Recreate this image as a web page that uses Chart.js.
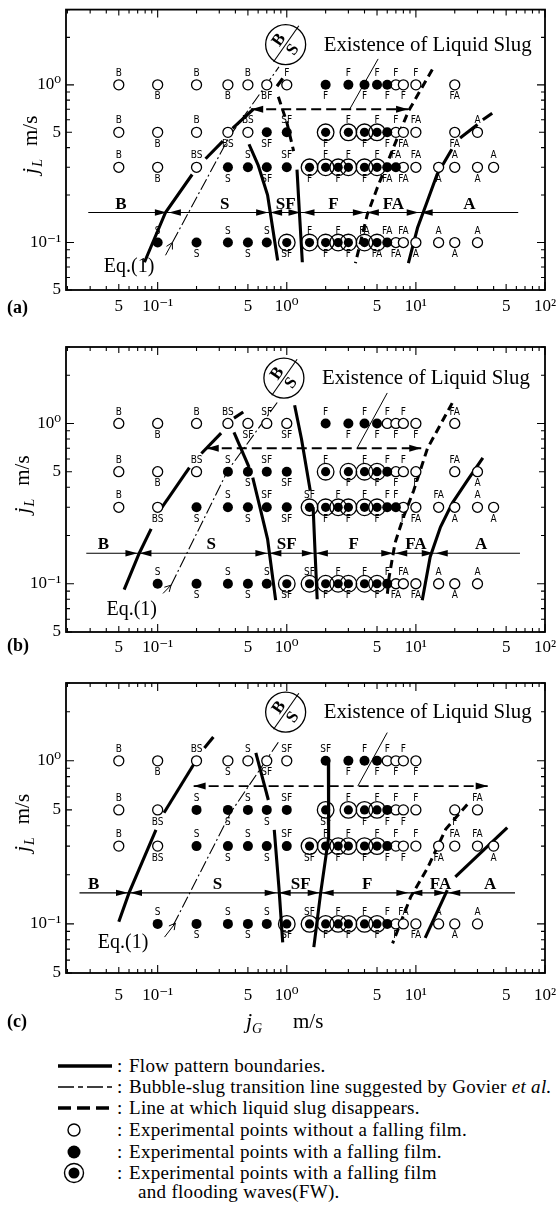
<!DOCTYPE html>
<html><head><meta charset="utf-8">
<script src="https://cdn.jsdelivr.net/npm/chart.js@4.4.1/dist/chart.umd.min.js"></script>
<style>
html,body{margin:0;padding:0;background:#fff}
body{width:560px;height:1206px;position:relative;overflow:hidden;font-family:"Liberation Serif","DejaVu Serif",serif;color:#000}
canvas{position:absolute;left:0}
.lg{position:absolute;left:0;width:560px;height:22px;font-size:19px;line-height:22px;letter-spacing:.3px;white-space:nowrap}
.lg svg{position:absolute;left:56px;top:0}
.lg .c{position:absolute;left:117px}
.lg .t{position:absolute;left:129px}
</style></head><body>
<canvas id="pa" width="560" height="320" style="top:0"></canvas>
<canvas id="pb" width="560" height="332" style="top:330px"></canvas>
<canvas id="pc" width="560" height="368" style="top:665px"></canvas>

<div class="lg" style="top:1055px"><svg width="60" height="22"><line x1="2" y1="11" x2="56" y2="11" stroke="#000" stroke-width="3.5"/></svg><span class="c">:</span><span class="t">Flow pattern boundaries.</span></div>
<div class="lg" style="top:1076px"><svg width="60" height="22"><line x1="2" y1="11" x2="56" y2="11" stroke="#000" stroke-width="1.4" stroke-dasharray="16 4 5 4"/></svg><span class="c">:</span><span class="t">Bubble-slug transition line suggested by Govier <i>et al.</i></span></div>
<div class="lg" style="top:1097px"><svg width="60" height="22"><line x1="2" y1="11" x2="56" y2="11" stroke="#000" stroke-width="3.5" stroke-dasharray="13 6"/></svg><span class="c">:</span><span class="t">Line at which liquid slug disappears.</span></div>
<div class="lg" style="top:1119px"><svg width="60" height="22"><circle cx="18" cy="11" r="6" fill="#fff" stroke="#000" stroke-width="1.4"/></svg><span class="c">:</span><span class="t">Experimental points without a falling film.</span></div>
<div class="lg" style="top:1141px"><svg width="60" height="22"><circle cx="18" cy="11" r="6.5" fill="#000"/></svg><span class="c">:</span><span class="t">Experimental points with a falling film.</span></div>
<div class="lg" style="top:1162px"><svg width="60" height="22"><circle cx="18" cy="11" r="9.5" fill="#fff" stroke="#000" stroke-width="1.4"/><circle cx="18" cy="11" r="5.5" fill="#000"/></svg><span class="c">:</span><span class="t">Experimental points with a falling film</span></div>
<div class="lg" style="top:1181px"><span class="t" style="left:138px">and flooding waves(FW).</span></div>

<script>
const SERIF='"Liberation Serif","DejaVu Serif",serif';
const TAGF='"DejaVu Sans Condensed","Liberation Sans",sans-serif';

// shared axes
const X_MIN=0.0195, X_MAX=100, Y_MIN=0.05, Y_MAX=3;
const xTickVals=[0.05,0.1,0.5,1,5,10,50,100];
const xTickText=['5','10⁻¹','5','10⁰','5','10¹','5','10²'];
const yTickVals=[0.05,0.1,0.5,1];
const yTickText=['5','10⁻¹','5','10⁰'];
const REGIME_Y=0.155, SLUG_Y=0.7;

/* ---------- panel (a) ---------- */
const aOpen=[[0.05,1],[0.1,1],[0.2,1],[0.35,1],[0.5,1],[0.7,1],[1,1],[7,1],[8,1],[10,1],[20,1],
  [0.05,.5],[0.1,.5],[0.2,.5],[0.35,.5],[0.5,.5],[7,.5],[8,.5],[10,.5],[20,.5],[30,.5],
  [0.05,.3],[0.1,.3],[0.2,.3],[8,.3],[10,.3],[15,.3],[20,.3],[30,.3],[40,.3],
  [7,.1],[8,.1],[10,.1],[15,.1],[20,.1],[30,.1]];
const aFill=[[2,1],[3,1],[4,1],[5,1],[6,1],[0.7,.5],[1,.5],[6,.5],
  [0.35,.3],[0.5,.3],[0.7,.3],[1,.3],[6,.3],[7,.3],
  [0.1,.1],[0.2,.1],[0.35,.1],[0.5,.1],[0.7,.1],[6,.1]];
const aFlood=[[2,.5],[3,.5],[4,.5],[5,.5],[1.5,.3],[2,.3],[2.5,.3],[3,.3],[4,.3],[5,.3],
  [1,.1],[1.5,.1],[2,.1],[2.5,.1],[3,.1],[4,.1],[5,.1]];
const aUp=[[0.05,1,'B'],[0.2,1,'B'],[0.5,1,'B'],[1,1,'F'],[3,1,'F'],[5,1,'F'],[7,1,'F'],[10,1,'F'],
  [0.05,.5,'B'],[0.2,.5,'B'],[0.5,.5,'BS'],[1,.5,'SF'],[3,.5,'F'],[5,.5,'F'],[7,.5,'F'],[10,.5,'FA'],[30,.5,'A'],
  [0.05,.3,'B'],[0.2,.3,'BS'],[0.5,.3,'S'],[1,.3,'SF'],[2,.3,'F'],[3,.3,'F'],[5,.3,'F'],[7,.3,'FA'],[10,.3,'FA'],[20,.3,'A'],[40,.3,'A'],
  [0.1,.1,'S'],[0.35,.1,'S'],[0.7,.1,'S'],[1.5,.1,'F'],[2.5,.1,'F'],[4,.1,'FA'],[6,.1,'FA'],[8,.1,'FA'],[15,.1,'A'],[30,.1,'A']];
const aDn=[[0.1,1,'B'],[0.35,1,'B'],[0.7,1,'BF'],[2,1,'F'],[4,1,'F'],[6,1,'F'],[8,1,'F'],[20,1,'FA'],
  [0.1,.5,'B'],[0.35,.5,'BS'],[0.7,.5,'SF'],[2,.5,'F'],[4,.5,'F'],[6,.5,'F'],[8,.5,'FA'],[20,.5,'FA'],
  [0.1,.3,'B'],[0.35,.3,'S'],[0.7,.3,'SF'],[1.5,.3,'F'],[2.5,.3,'F'],[4,.3,'F'],[6,.3,'FA'],[8,.3,'FA'],[15,.3,'A'],[30,.3,'A'],
  [0.2,.1,'S'],[0.5,.1,'S'],[1,.1,'SF'],[2,.1,'F'],[3,.1,'F'],[5,.1,'FA'],[7,.1,'FA'],[10,.1,'A'],[20,.1,'A']];
const aSolid=[
  [[0.079,0.075],[0.115,0.155],[0.185,0.27]],
  [[0.235,0.34],[0.32,0.44]],
  [[0.38,0.53],[0.55,0.7]],
  [[0.84,0.98],[0.93,1.1]],
  [[0.51,0.42],[0.6,0.31],[0.71,0.2],[0.85,0.077]],
  [[1.2,0.29],[1.25,0.16],[1.32,0.075]],
  [[8.75,0.074],[10.3,0.124],[12.3,0.184],[14.6,0.27],[19,0.39]],
  [[22,0.46],[30,0.56]],
  [[33,0.6],[39,0.66]]];
const aSlugEnd=[
  [[0.86,0.84],[1.0,0.58],[1.13,0.38]],
  [[13.4,1.25],[8.75,0.68],[6.7,0.4],[5.0,0.22],[4.2,0.15],[3.4,0.074]]];
const aGovier=[[0.13,0.1],[0.36,0.47],[0.87,1.3]];
const aRegimeX=[0.029,62];
const aBounds=[0.12,0.73,1.3,4.1,10.7];
const aRegions=[[0.052,'B'],[0.33,'S'],[0.98,'SF'],[2.3,'F'],[6.7,'FA'],[26,'A']];
const aSlugX=[0.53,8.7];
const aPointer=[[5.1,1.46],[3.07,0.7]];
const aBadge=[0.98,1.8];
const aEq=[0.06,0.07];
const aEqArrow=[[0.115,0.083],[0.13,0.1]];

/* ---------- panel (b) ---------- */
const bOpen=[[0.05,1],[0.1,1],[0.2,1],[0.35,1],[0.5,1],[0.7,1],[1,1],[6,1],[7,1],[8,1],[10,1],[20,1],
  [0.05,.5],[0.1,.5],[0.2,.5],[7,.5],[8,.5],[10,.5],[20,.5],[30,.5],
  [0.05,.3],[0.1,.3],[8,.3],[10,.3],[15,.3],[20,.3],[30,.3],[40,.3],
  [7,.1],[8,.1],[10,.1],[15,.1],[20,.1],[30,.1]];
const bFill=[[2,1],[3,1],[4,1],[5,1],[0.35,.5],[0.5,.5],[0.7,.5],[1,.5],[6,.5],
  [0.2,.3],[0.35,.3],[0.5,.3],[0.7,.3],[1,.3],[6,.3],[7,.3],
  [0.1,.1],[0.2,.1],[0.35,.1],[0.5,.1],[0.7,.1],[6,.1]];
const bFlood=[[2,.5],[3,.5],[4,.5],[5,.5],[1.5,.3],[2,.3],[2.5,.3],[3,.3],[4,.3],[5,.3],
  [1,.1],[1.5,.1],[2,.1],[2.5,.1],[3,.1],[4,.1],[5,.1]];
const bUp=[[0.05,1,'B'],[0.2,1,'B'],[0.35,1,'BS'],[0.7,1,'SF'],[2,1,'F'],[4,1,'F'],[6,1,'F'],[8,1,'F'],[20,1,'FA'],
  [0.05,.5,'B'],[0.2,.5,'BS'],[0.35,.5,'S'],[0.7,.5,'SF'],[2,.5,'F'],[4,.5,'F'],[6,.5,'F'],[8,.5,'F'],[20,.5,'FA'],
  [0.05,.3,'B'],[0.35,.3,'S'],[0.7,.3,'SF'],[1.5,.3,'SF'],[2.5,.3,'F'],[4,.3,'F'],[6,.3,'F'],[7,.3,'F'],[15,.3,'FA'],[30,.3,'A'],
  [0.1,.1,'S'],[0.35,.1,'S'],[0.7,.1,'S'],[1.5,.1,'SF'],[2.5,.1,'F'],[4,.1,'F'],[6,.1,'F'],[8,.1,'FA'],[15,.1,'A'],[30,.1,'A']];
const bDn=[[0.1,1,'B'],[0.5,1,'SF'],[1,1,'SF'],[3,1,'F'],[5,1,'F'],[7,1,'F'],[10,1,'F'],
  [0.1,.5,'B'],[0.5,.5,'S'],[1,.5,'SF'],[3,.5,'F'],[5,.5,'F'],[7,.5,'F'],[10,.5,'F'],[30,.5,'A'],
  [0.1,.3,'BS'],[0.2,.3,'S'],[0.5,.3,'S'],[1,.3,'SF'],[2,.3,'F'],[3,.3,'F'],[5,.3,'F'],[8,.3,'F'],[10,.3,'FA'],[20,.3,'A'],[40,.3,'A'],
  [0.2,.1,'S'],[0.5,.1,'S'],[1,.1,'SF'],[2,.1,'F'],[3,.1,'F'],[5,.1,'F'],[7,.1,'FA'],[10,.1,'FA'],[20,.1,'A']];
const bSolid=[
  [[0.055,0.092],[0.072,0.155],[0.089,0.22]],
  [[0.105,0.29],[0.176,0.53]],
  [[0.218,0.65],[0.31,0.87]],
  [[0.39,1.08],[0.46,1.18]],
  [[0.39,0.88],[0.51,0.535]],
  [[0.545,0.46],[0.62,0.3],[0.71,0.19],[0.82,0.079]],
  [[1.15,1.3],[1.3,0.8],[1.52,0.38]],
  [[1.6,0.3],[1.66,0.15],[1.72,0.08]],
  [[11.2,0.079],[12.9,0.147],[15.5,0.226],[19.2,0.32],[25,0.44],[33,0.61]]];
const bSlugEnd=[[[19.1,1.34],[12.3,0.7],[9.6,0.38],[8.0,0.26],[6.9,0.18],[6.2,0.11],[6.0,0.085]]];
const bGovier=[[0.127,0.098],[0.35,0.51],[0.87,1.4]];
const bRegimeX=[0.028,64];
const bBounds=[0.071,0.72,1.65,6.8,14];
const bRegions=[[0.038,'B'],[0.26,'S'],[1.0,'SF'],[3.3,'F'],[10,'FA'],[32,'A']];
const bSlugX=[0.24,11];
const bPointer=[[6.0,1.55],[3.5,0.7]];
const bBadge=[0.95,1.92];
const bEq=[0.063,0.069];
const bEqArrow=[[0.11,0.087],[0.127,0.098]];

/* ---------- panel (c) ---------- */
const cOpen=[[0.05,1],[0.1,1],[0.2,1],[0.35,1],[0.5,1],[0.7,1],[1,1],[6,1],[7,1],[8,1],[10,1],
  [0.05,.5],[0.1,.5],[7,.5],[8,.5],[10,.5],[20,.5],[30,.5],
  [0.05,.3],[0.1,.3],[7,.3],[8,.3],[10,.3],[15,.3],[20,.3],[30,.3],[40,.3],
  [7,.1],[8,.1],[10,.1],[15,.1],[20,.1],[30,.1]];
const cFill=[[2,1],[3,1],[4,1],[5,1],[0.2,.5],[0.35,.5],[0.5,.5],[0.7,.5],[1,.5],[6,.5],
  [0.2,.3],[0.35,.3],[0.5,.3],[0.7,.3],[1,.3],[6,.3],
  [0.1,.1],[0.2,.1],[0.35,.1],[0.5,.1],[0.7,.1],[6,.1]];
const cFlood=[[2,.5],[3,.5],[4,.5],[5,.5],[1.5,.3],[2,.3],[2.5,.3],[3,.3],[4,.3],[5,.3],
  [1,.1],[1.5,.1],[2,.1],[2.5,.1],[3,.1],[4,.1],[5,.1]];
const cUp=[[0.05,1,'B'],[0.2,1,'BS'],[0.5,1,'S'],[1,1,'SF'],[2,1,'SF'],[4,1,'F'],[6,1,'F'],[8,1,'F'],
  [0.05,.5,'B'],[0.2,.5,'S'],[0.5,.5,'S'],[1,.5,'SF'],[3,.5,'F'],[5,.5,'F'],[7,.5,'F'],[10,.5,'F'],[30,.5,'FA'],
  [0.05,.3,'B'],[0.2,.3,'S'],[0.5,.3,'S'],[1,.3,'SF'],[2,.3,'F'],[3,.3,'F'],[5,.3,'F'],[7,.3,'F'],[10,.3,'F'],[20,.3,'FA'],[30,.3,'FA'],
  [0.1,.1,'S'],[0.35,.1,'S'],[0.7,.1,'S'],[1.5,.1,'SF'],[2.5,.1,'F'],[4,.1,'F'],[6,.1,'F'],[8,.1,'FA'],[15,.1,'A'],[30,.1,'A']];
const cDn=[[0.1,1,'B'],[0.35,1,'S'],[0.7,1,'SF'],[3,1,'F'],[5,1,'F'],[7,1,'F'],[10,1,'F'],
  [0.1,.5,'BS'],[0.35,.5,'S'],[0.7,.5,'S'],[2,.5,'SF'],[4,.5,'F'],[6,.5,'F'],[8,.5,'F'],[20,.5,'F'],
  [0.1,.3,'BS'],[0.35,.3,'S'],[0.7,.3,'S'],[1.5,.3,'SF'],[2.5,.3,'F'],[4,.3,'F'],[6,.3,'F'],[8,.3,'F'],[15,.3,'FA'],[40,.3,'A'],
  [0.2,.1,'S'],[0.5,.1,'S'],[1,.1,'SF'],[2,.1,'F'],[3,.1,'F'],[5,.1,'F'],[7,.1,'F'],[10,.1,'FA'],[20,.1,'A']];
const cSolid=[
  [[0.05,0.103],[0.06,0.155],[0.097,0.377]],
  [[0.112,0.48],[0.19,0.95]],
  [[0.23,1.2],[0.27,1.4]],
  [[0.576,1.12],[0.72,0.575]],
  [[0.8,0.377],[0.87,0.166],[0.93,0.077]],
  [[2.1,0.97],[2.12,0.52],[2.1,0.34],[1.83,0.155],[1.62,0.072]],
  [[11.8,0.082],[17.5,0.161]],
  [[20.2,0.194],[51,0.39]]];
const cSlugEnd=[[[25,0.54],[17,0.38],[12.3,0.22],[9.1,0.146],[6.6,0.076]]];
const cGovier=[[0.132,0.098],[0.37,0.485],[0.86,1.3]];
const cRegimeX=[0.0248,58.6];
const cBounds=[0.06,0.85,1.83,8.9,17.5];
const cRegions=[[0.032,'B'],[0.29,'S'],[1.28,'SF'],[4.2,'F'],[15.5,'FA'],[37.6,'A']];
const cSlugX=[0.19,36];
const cPointer=[[6.0,1.49],[3.55,0.7]];
const cBadge=[0.98,1.99];
const cEq=[0.054,0.0764];
const cEqArrow=[[0.113,0.083],[0.137,0.101]];

/* ---------- drawing helpers ---------- */
function tri(c,x,y,dir,len,half){ // tip at x,y ; dir 1 = points right
  c.beginPath();c.moveTo(x,y);c.lineTo(x-dir*len,y-half);c.lineTo(x-dir*len,y+half);c.closePath();c.fill();
}
function pts(a){return a.map(p=>({x:p[0],y:p[1]}));}
function line(a,w,dash){return {data:pts(a),showLine:true,borderColor:'#000',borderWidth:w,borderDash:dash||[],
  pointRadius:0,fill:false,tension:0,borderCapStyle:'butt'};}

function makeDecor(d,lay){
  return {id:'decor',
    afterDatasetsDraw(ch){
      const c=ch.ctx,X=v=>ch.scales.x.getPixelForValue(v),Y=v=>ch.scales.y.getPixelForValue(v);
      c.save();c.fillStyle='#000';c.strokeStyle='#000';
      // regime arrows + names
      const ry=Y(REGIME_Y);
      d.bounds.forEach(b=>{const p=X(b);tri(c,p-1,ry,1,12,3.2);tri(c,p+1,ry,-1,12,3.2);});
      c.font='bold 17px '+SERIF;c.textAlign='center';c.textBaseline='alphabetic';
      d.regions.forEach(r=>c.fillText(r[1],X(r[0]),ry-4));
      // slug-existence arrow heads
      const sy=Y(SLUG_Y);
      tri(c,X(d.slugX[0]),sy,-1,12,3.5);tri(c,X(d.slugX[1]),sy,1,12,3.5);
      // point tags
      c.font='10px '+TAGF;c.textBaseline='middle';
      d.up.forEach(t=>c.fillText(t[2],X(t[0]),Y(t[1])-11.5));
      d.dn.forEach(t=>c.fillText(t[2],X(t[0]),Y(t[1])+12));
      // Eq.(1)
      c.font='20px '+SERIF;c.fillText('Eq.(1)',X(d.eq[0]),Y(d.eq[1]));
      const e0=d.eqArrow[0],e1=d.eqArrow[1];
      const x1=X(e1[0]),y1=Y(e1[1]),an=Math.atan2(y1-Y(e0[1]),x1-X(e0[0]));
      c.lineWidth=1;c.beginPath();
      c.moveTo(x1-7*Math.cos(an-0.5),y1-7*Math.sin(an-0.5));c.lineTo(x1,y1);
      c.lineTo(x1-7*Math.cos(an+0.5),y1-7*Math.sin(an+0.5));c.stroke();
      // B/S badge
      const bx=X(d.badge[0]),by=Y(d.badge[1]);
      c.lineWidth=1.3;c.beginPath();c.arc(bx,by,20,0,2*Math.PI);c.stroke();
      c.save();c.translate(bx,by);c.rotate(-55*Math.PI/180);
      c.lineWidth=1.1;c.beginPath();c.moveTo(-21,0);c.lineTo(23,0);c.stroke();
      c.font='bold 17px '+SERIF;c.textAlign='center';c.textBaseline='middle';
      c.fillText('B',0,-8);c.fillText('S',0,9);
      c.restore();
      // caption next to badge, fitted to its width in the scan
      c.font='20px '+SERIF;c.textAlign='left';c.textBaseline='middle';
      const cap='Existence of Liquid Slug',w=c.measureText(cap).width;
      c.save();c.translate(bx+38,by+1);c.scale(208/w,1);c.fillText(cap,0,0);c.restore();
      c.restore();
    },
    afterDraw(ch){
      const c=ch.ctx,a=ch.chartArea,xs=ch.scales.x,ys=ch.scales.y;
      c.save();c.strokeStyle='#000';c.fillStyle='#000';
      c.lineWidth=1.8;c.strokeRect(a.left,a.top,a.right-a.left,a.bottom-a.top);
      c.lineWidth=1.1;c.beginPath();
      for(let e=-2;e<=2;e++)for(let k=1;k<=9;k++){
        const v=k*Math.pow(10,e),L=k===1?8:(k===5?6:4);
        if(v>=X_MIN&&v<=X_MAX){const p=xs.getPixelForValue(v);c.moveTo(p,a.bottom);c.lineTo(p,a.bottom-L);c.moveTo(p,a.top);c.lineTo(p,a.top+L);}
        if(v>=Y_MIN&&v<=Y_MAX){const p=ys.getPixelForValue(v);c.moveTo(a.left,p);c.lineTo(a.left+L,p);c.moveTo(a.right,p);c.lineTo(a.right-L,p);}
      }
      c.stroke();
      // y title  j_L  m/s
      c.save();c.translate(lay.yTitleX+7,(a.top+a.bottom)/2-5);c.rotate(-Math.PI/2);
      c.textBaseline='alphabetic';c.textAlign='left';
      c.font='italic 22px '+SERIF;const wj=c.measureText('j').width;
      c.font='italic 14px '+SERIF;const wl=c.measureText('L').width;
      c.font='21px '+SERIF;const wm=c.measureText('m/s').width;
      let x0=-(wj+wl+14+wm)/2;
      c.font='italic 22px '+SERIF;c.fillText('j',x0,0);
      c.font='italic 14px '+SERIF;c.fillText('L',x0+wj+1,5);
      c.font='21px '+SERIF;c.fillText('m/s',x0+wj+wl+14,0);
      c.restore();
      // panel tag
      c.font='bold 18px '+SERIF;c.textAlign='left';c.textBaseline='middle';
      c.fillText(lay.tag,7,a.bottom+lay.tagDy);
      if(lay.xTitle){
        const yb=a.bottom+lay.tagDy+6;
        c.textBaseline='alphabetic';
        c.font='italic 22px '+SERIF;c.fillText('j',246,yb);
        c.font='italic 14px '+SERIF;c.fillText('G',252,yb+5);
        c.font='21px '+SERIF;c.fillText('m/s',293,yb);
      }
      c.restore();
    }};
}

function panel(id,d,lay){
  const ds=[
    {data:pts(d.flood),pointRadius:4.6,pointBackgroundColor:'#000',pointBorderWidth:0,showLine:false},
    {data:pts(d.flood),pointRadius:8.3,pointBackgroundColor:'rgba(0,0,0,0)',pointBorderColor:'#000',pointBorderWidth:1.3,showLine:false},
    {data:pts(d.fill),pointRadius:5,pointBackgroundColor:'#000',pointBorderWidth:0,showLine:false},
    {data:pts(d.open),pointRadius:5,pointBackgroundColor:'#fff',pointBorderColor:'#000',pointBorderWidth:1.3,showLine:false},
    ...d.solid.map(s=>line(s,3.1)),
    ...d.slugEnd.map(s=>line(s,3,[8,5])),
    line(d.govier,1.1,[12,3,2,3]),
    line([[d.regimeX[0],REGIME_Y],[d.regimeX[1],REGIME_Y]],1.2),
    line([[d.slugX[0],SLUG_Y],[d.slugX[1],SLUG_Y]],1.9,[10,5]),
    line(d.pointer,1),
    line(d.eqArrow,1)
  ];
  return new Chart(document.getElementById(id),{type:'scatter',data:{datasets:ds},
    options:{responsive:false,animation:false,events:[],
      layout:{padding:{top:lay.top,right:15,bottom:lay.bottom,left:0}},
      plugins:{legend:{display:false},tooltip:{enabled:false}},
      scales:{
        x:{type:'logarithmic',min:X_MIN,max:X_MAX,
          afterBuildTicks:s=>{s.ticks=xTickVals.map(v=>({value:v}));},
          afterFit:s=>{s.height=30;s.paddingLeft=0;s.paddingRight=0;},
          ticks:{autoSkip:false,maxRotation:0,padding:lay.xPad,color:'#000',font:{family:SERIF,size:17},
            callback:(v,i)=>xTickText[i]},
          grid:{display:false,drawTicks:false},border:{display:false}},
        y:{type:'logarithmic',min:Y_MIN,max:Y_MAX,
          afterBuildTicks:s=>{s.ticks=yTickVals.map(v=>({value:v}));},
          afterFit:s=>{s.width=66;s.paddingTop=0;s.paddingBottom=0;},
          ticks:{autoSkip:false,padding:5,color:'#000',font:{family:SERIF,size:17},
            callback:(v,i)=>yTickText[i]},
          grid:{display:false,drawTicks:false},border:{display:false}}
      }},
    plugins:[makeDecor(d,lay)]});
}

panel('pa',{open:aOpen,fill:aFill,flood:aFlood,up:aUp,dn:aDn,solid:aSolid,slugEnd:aSlugEnd,govier:aGovier,
  regimeX:aRegimeX,bounds:aBounds,regions:aRegions,slugX:aSlugX,pointer:aPointer,badge:aBadge,eq:aEq,eqArrow:aEqArrow},
  {top:7,bottom:0,xPad:6,yTitleX:30,tag:'(a)',tagDy:18});
panel('pb',{open:bOpen,fill:bFill,flood:bFlood,up:bUp,dn:bDn,solid:bSolid,slugEnd:bSlugEnd,govier:bGovier,
  regimeX:bRegimeX,bounds:bBounds,regions:bRegions,slugX:bSlugX,pointer:bPointer,badge:bBadge,eq:bEq,eqArrow:bEqArrow},
  {top:17,bottom:0,xPad:5,yTitleX:22,tag:'(b)',tagDy:14});
panel('pc',{open:cOpen,fill:cFill,flood:cFlood,up:cUp,dn:cDn,solid:cSolid,slugEnd:cSlugEnd,govier:cGovier,
  regimeX:cRegimeX,bounds:cBounds,regions:cRegions,slugX:cSlugX,pointer:cPointer,badge:cBadge,eq:cEq,eqArrow:cEqArrow},
  {top:18,bottom:30,xPad:12,yTitleX:22,tag:'(c)',tagDy:49,xTitle:true});
</script>
</body></html>
